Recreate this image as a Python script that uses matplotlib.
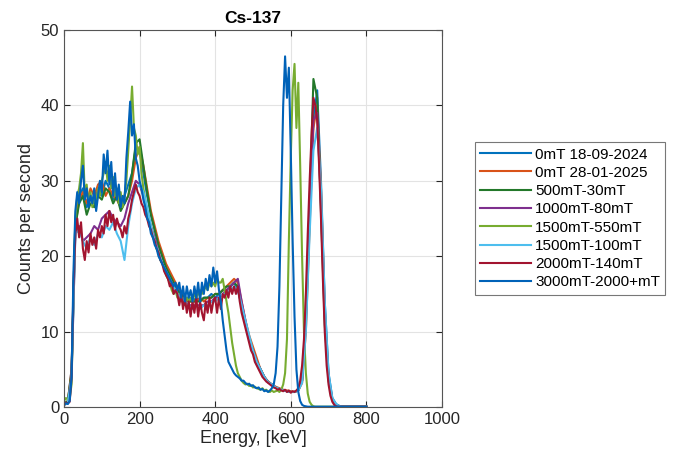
import numpy as np
import matplotlib
matplotlib.use("Agg")
import matplotlib.pyplot as plt

# energy grids (keV)
energy_fine = np.arange(0, 805, 5)     # 5 keV bins, series drawn on top
energy_coarse = np.arange(0, 810, 10)  # 10 keV bins, series mostly hidden underneath

# counts per second
cps_0mT_2024 = [
    0.3, 0.6, 5, 25, 28, 29, 26.5, 28, 27, 29,
    28, 30, 29, 27.5, 28.5, 27, 28, 29.5, 31, 34.5,
    34, 31, 28, 25.5, 23.5, 21.5, 20, 18.5, 17.5, 16.5,
    15.5, 15, 14.5, 14.5, 14, 14.5, 14, 14.5, 14.5, 15,
    14.5, 15, 15.5, 15.5, 16, 16.5, 15.5, 13.5, 11, 9,
    7.5, 6, 5, 4, 3.3, 3, 2.6, 2.4, 2.2, 2.1,
    2.0, 2.0, 2.3, 3.5, 11, 25, 38, 42, 30, 14,
    4.5, 1.2, 0.4, 0.1, 0.05, 0.05, 0.05, 0.05, 0.05, 0.05, 0.05,
]
cps_0mT_2025 = [
    0.4, 0.7, 5, 24, 27.5, 28.5, 27, 29, 28, 29.5,
    30, 28, 29, 28, 27.5, 26.5, 27, 28, 30, 33,
    34.5, 32, 29, 26, 24, 22, 20.5, 19, 18, 17,
    16, 15, 14.5, 14, 14, 14, 14.5, 14, 14.5, 14.5,
    15, 15, 15.5, 16, 16.5, 17, 16.5, 14, 11.5, 9.5,
    8, 6.5, 5, 4, 3.4, 3, 2.7, 2.5, 2.3, 2.2,
    2.1, 2.0, 2.2, 3.2, 10, 24, 37, 40, 29, 13,
    4, 1, 0.3, 0.1, 0.05, 0.05, 0.05, 0.05, 0.05, 0.05, 0.05,
]
cps_500mT = [
    0.5, 0.8, 4.5, 24, 27, 28, 25.5, 27, 26.5, 28,
    27.5, 29, 28.5, 27, 28, 26, 27, 28, 31, 35,
    35.5, 32, 28.5, 25.5, 23.5, 21.5, 20, 18.5, 17.5, 16.5,
    15.5, 15, 14.5, 14, 14, 14, 14, 14.5, 14.5, 14.5,
    15, 15, 15.5, 16, 16, 16.5, 16, 13.5, 11, 9,
    7.5, 6, 5, 4, 3.3, 3, 2.6, 2.4, 2.2, 2.1,
    2.0, 2.0, 2.2, 3.5, 12, 27, 43.5, 41, 26, 11,
    3.5, 1, 0.3, 0.1, 0.05, 0.05, 0.05, 0.05, 0.05, 0.05, 0.05,
]
cps_1000mT = [
    0.3, 0.5, 4, 23, 24, 22, 22.5, 23, 24, 23.5,
    25, 25.5, 26, 25, 24.5, 24, 25, 27, 28.5, 30,
    29.5, 28, 26, 24, 22.5, 20.5, 19, 18, 17, 16,
    15, 14.5, 14, 13.5, 13.5, 13.5, 13.5, 13.5, 14, 14,
    14.5, 14.5, 15, 15.5, 16, 16.5, 17, 14, 11.5, 9,
    7.5, 6, 5, 4, 3.3, 3, 2.6, 2.4, 2.2, 2.1,
    2.0, 2.0, 2.3, 3.5, 12, 26, 38, 39, 27, 12,
    4, 1, 0.3, 0.1, 0.05, 0.05, 0.05, 0.05, 0.05, 0.05, 0.05,
]
cps_1500mT_550 = [
    0.8, 1.2, 1.0, 1.2, 3, 15, 25, 28, 29, 31,
    35, 28, 29.5, 27, 28.5, 26.5, 28, 27, 29, 28,
    30, 31, 32.5, 30, 32, 29, 30.5, 28, 29, 27,
    28.5, 26.5, 28, 30, 34, 38, 42.5, 37, 36, 33.5,
    34.5, 31, 29, 27.5, 26, 25, 24, 23, 22, 21,
    20.5, 19.5, 19, 18.5, 17.5, 17, 16.5, 15.5, 15, 15.5,
    14.5, 15, 14, 14.5, 13.5, 14.5, 14, 14.5, 14, 15,
    14.5, 15, 15.5, 15, 15.5, 16, 15.5, 16.5, 16, 16.5,
    16, 17, 16.5, 16.5, 17, 15.5, 14, 12.5, 10.5, 8.5,
    7, 5.5, 4.5, 4, 3.5, 3.2, 3.0, 3.1, 2.8, 2.9,
    2.6, 2.7, 2.5, 2.4, 2.3, 2.5, 2.2, 2.3, 2.1, 2.0,
    2.2, 2.0, 2.1, 2.2, 2.0, 2.3, 3, 4.5, 9, 22,
    33, 42, 45.5, 37, 43, 32, 20, 10, 4.5, 1.8,
    0.7, 0.3, 0.1, 0.05, 0.05, 0.05, 0.05, 0.05, 0.05, 0.05,
    0.05, 0.05, 0.05, 0.05, 0.05, 0.05, 0.05, 0.05, 0.05, 0.05,
    0.05, 0.05, 0.05, 0.05, 0.05, 0.05, 0.05, 0.05, 0.05, 0.05,
    0.05,
]
cps_1500mT_100 = [
    0.3, 0.5, 4, 23, 23.5, 22, 21, 22.5, 21.5, 23,
    22.5, 24, 23.5, 24.5, 23, 22, 19.5, 24, 27, 29,
    29.5, 28.5, 26.5, 24, 22, 20.5, 19, 18, 17, 16,
    15, 14.5, 14, 13.5, 13, 13.5, 13, 13.5, 13.5, 14,
    14, 14.5, 15, 15, 15.5, 16, 15.5, 13.5, 11.5, 9.5,
    7.5, 6, 5, 4, 3.3, 3, 2.6, 2.4, 2.2, 2.1,
    2.0, 2.0, 2.2, 3.2, 10, 23, 34, 37, 29, 14,
    4.5, 1.2, 0.4, 0.1, 0.05, 0.05, 0.05, 0.05, 0.05, 0.05, 0.05,
]
cps_2000mT = [
    0.3, 0.6, 0.5, 0.7, 4, 16, 23, 25, 22.5, 24.5,
    21, 19.5, 22, 20.5, 23, 21.5, 22.5, 21, 23.5, 22.5,
    24, 23, 25.5, 24, 26, 24.5, 25.5, 23.5, 25, 24,
    23.5, 22.5, 24, 23, 25, 26, 27.5, 28.5, 29.5, 28.5,
    28, 27, 26.5, 25.5, 25, 24, 23.5, 22.5, 22, 21,
    20.5, 19.5, 19, 18, 17.5, 17, 16, 16.5, 15, 15.5,
    15, 13.5, 15, 13, 14.5, 12.5, 14, 12, 14, 12.5,
    14.5, 12, 14, 12.5, 11.5, 14, 12.5, 14.5, 12.5, 14,
    14.5, 12.5, 14.5, 13, 15, 14.5, 15.5, 14.5, 16, 15,
    16, 15, 16, 14, 12.5, 11.5, 10.5, 9.5, 8.5, 7.5,
    7, 6, 5.5, 5, 4.5, 4, 3.7, 3.4, 3.2, 3,
    2.8, 2.6, 2.5, 2.3, 2.4, 2.2, 2.1, 2.3, 2.0, 2.2,
    1.9, 2.1, 2.0, 2.2, 2.5, 3.5, 5.5, 9, 15, 23,
    30, 36, 41, 40, 38, 32, 25, 17, 10, 5.5,
    3, 1.5, 0.7, 0.3, 0.1, 0.05, 0.05, 0.05, 0.05, 0.05,
    0.05, 0.05, 0.05, 0.05, 0.05, 0.05, 0.05, 0.05, 0.05, 0.05,
    0.05,
]
cps_3000mT = [
    0.3, 0.5, 0.4, 0.8, 4, 18, 26, 28.5, 27, 30,
    32, 27.5, 29, 26.5, 28, 27, 29, 26, 28, 30,
    28.5, 33.5, 31, 34, 29.5, 32.5, 28, 31, 27.5, 29.5,
    26.5, 28, 27, 33, 36.5, 40.5, 36, 37.5, 33, 32,
    30, 29, 27.5, 26.5, 25, 24.5, 23, 22.5, 21.5, 21,
    20, 19.5, 19, 18.5, 18, 17.5, 17, 16.5, 16, 16.5,
    15.5, 16.5, 14.5, 16, 14, 16, 14.5, 15.5, 14, 16,
    14.5, 16.5, 14, 16.5, 15, 17, 15.5, 17.5, 16, 18.5,
    16.5, 18, 15.5, 14, 11.5, 9.5, 7.5, 6, 5.5, 5,
    4.5, 4.2, 4, 3.8, 3.5, 3.5, 3.2, 3, 3.1, 2.8,
    2.9, 2.6, 2.5, 2.6, 2.3, 2.4, 2.1, 2.2, 2.0, 2.2,
    2.5, 3, 4.5, 8, 16, 28, 40, 46.5, 41, 45,
    34, 22, 12, 5, 2, 0.8, 0.3, 0.15, 0.1, 0.05,
    0.05, 0.05, 0.05, 0.05, 0.05, 0.05, 0.05, 0.05, 0.05, 0.05,
    0.05, 0.05, 0.05, 0.05, 0.05, 0.05, 0.05, 0.05, 0.05, 0.05,
    0.05, 0.05, 0.05, 0.05, 0.05, 0.05, 0.05, 0.05, 0.05, 0.05,
    0.05,
]

labels = ["0mT 18-09-2024", "0mT 28-01-2025", "500mT-30mT", "1000mT-80mT",
          "1500mT-550mT", "1500mT-100mT", "2000mT-140mT", "3000mT-2000+mT"]
colors = ["#0072BD", "#D95319", "#23782A", "#7E2F8E",
          "#77AC30", "#4DBEEE", "#A2142F", "#0062B8"]

series = [
    (energy_coarse, cps_0mT_2024),
    (energy_coarse, cps_0mT_2025),
    (energy_coarse, cps_500mT),
    (energy_coarse, cps_1000mT),
    (energy_fine, cps_1500mT_550),
    (energy_coarse, cps_1500mT_100),
    (energy_fine, cps_2000mT),
    (energy_fine, cps_3000mT),
]

plt.rcParams["font.family"] = ["Liberation Sans", "DejaVu Sans"]

fig = plt.figure(figsize=(6.76, 4.61), dpi=100)
ax = fig.add_axes([0.0947, 0.117, 0.559, 0.818])

for (x, y), lab, col in zip(series, labels, colors):
    ax.plot(x, y, color=col, linewidth=1.5, label=lab)

ax.set_xlim(0, 1000)
ax.set_ylim(0, 50)
ax.set_xticks(range(0, 1001, 200))
ax.set_yticks(range(0, 51, 10))
ax.grid(True, color="#e3e3e3", linewidth=0.8)
ax.set_axisbelow(True)
ax.tick_params(direction="in", top=True, right=True, labelsize=12,
               colors="#262626", length=4)
for sp in ax.spines.values():
    sp.set_color("#555555")
    sp.set_linewidth(0.8)

ax.set_xlabel("Energy, [keV]", fontsize=13, color="#262626", labelpad=2)
ax.set_ylabel("Counts per second", fontsize=13, color="#262626", labelpad=4)
ax.set_title("Cs-137", fontsize=12.5, fontweight="bold", pad=5)

leg = ax.legend(loc="center left", bbox_to_anchor=(1.087, 0.5), fontsize=11,
                frameon=True, fancybox=False, edgecolor="#555555",
                handlelength=3.3, handletextpad=0.3, labelspacing=0.28,
                borderpad=0.35, borderaxespad=0)
leg.get_frame().set_linewidth(0.8)

fig.savefig("out.png", dpi=100)
